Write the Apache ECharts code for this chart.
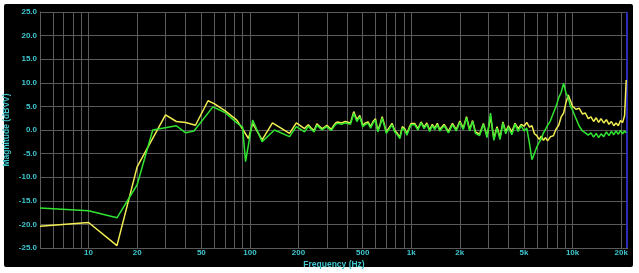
<!DOCTYPE html>
<html><head><meta charset="utf-8">
<script src="https://cdn.jsdelivr.net/npm/echarts@6/dist/echarts.min.js"></script>
<style>
html,body{margin:0;padding:0;background:#fff;}
#panel{position:absolute;left:4px;top:4px;width:629px;height:263px;background:#000;border-radius:2px;}
#chart{position:absolute;left:0;top:0;width:639px;height:273px;}
</style></head><body>
<div id="panel"></div><div id="chart"></div>
<script>
// ---- data ----
const greenLowF = [5, 10, 15, 20, 25, 35, 40, 45, 59, 70, 83, 90, 94, 104, 119, 142, 176, 194, 218];
const greenLowV = [-16.5, -17.1, -18.6, -11.6, 0.0, 0.9, -0.6, -0.2, 4.9, 3.7, 1.5, 0.6, -6.7, 2.1, -2.5, 0.0, -1.4, 0.7, -0.4];
const yellowLowF = [5, 10, 15, 20, 30, 35, 40, 46, 55, 60, 70, 83, 98, 104, 119, 138, 176, 194, 218];
const yellowLowV = [-20.4, -19.6, -24.5, -7.8, 3.2, 1.8, 1.6, 1.0, 6.2, 5.6, 4.1, 2.1, -1.8, 1.4, -2.1, 1.5, -0.7, 1.5, 0.3];
const hiF = [230,240,250,260,270,280,290,300,310,320,330,340,350,360,370,380,390,400,
  420,440,460,480,500,520,540,560,580,600,620,640,660,680,700,
  730,760,790,820,850,880,910,940,970,1000,
  1050,1100,1150,1200,1250,1300,1350,1400,1450,1500,
  1600,1700,1800,1900,2000,2100,2200,2300,2400,2500,
  2650,2800,2950,3100,3250,3400,3550,3700,3850,4000,
  4200,4400,4600,4800,5000,5200,5400,5600,5800,6000,6200,6400,6600,6800,7000,
  7300,7600,7900,8200,8500,8800,9100,9400,9700,10000,
  10500,11000,11500,12000,12500,13000,13500,14000,14500,15000,
  15600,16200,16800,17400,18000,18600,19200,19800,20400,21000,21500];
const greenHiV = [0.8, 0.1, -0.4, 1.0, 0.5, 0.0, 0.4, 0.7, 0.2, -0.1, 0.6, 1.2, 1.4, 1.0, 1.2, 1.0, 1.5, 1.8,
  1.2, 3.5, 1.8, 2.8, 0.7, 1.2, 1.4, 0.4, 1.5, 2.1, -0.4, 0.8, 2.5, 1.0, -0.7,
  0.2, 1.1, -0.4, -1.0, -1.8, 0.4, 0.0, -1.1, 0.2, 1.1,
  1.1, 0.0, 1.5, 0.3, 1.2, -0.3, 0.9, 0.1, 1.1, -0.2,
  0.9, -0.6, 1.1, -0.2, 1.6, 0.1, 2.6, -0.2, 1.8, -0.7,
  -1.2, 1.2, -1.6, 3.6, -2.2, 0.4, -2.0, 1.5, -0.8, 0.6,
  -1.0, 1.2, -0.3, 0.9, -0.2, 0.4, -2.8, -6.3, -5.0, -3.6, -2.6, -1.9, -0.6, 0.2, 1.0,
  2.0, 3.6, 5.0, 6.8, 8.0, 9.9, 7.8, 6.8, 5.0, 4.2,
  2.4, 0.8, -0.2, -0.6, -1.1, -0.6, -1.5, -0.7, -1.6, -0.8,
  -1.4, -0.4, -1.2, -0.3, -1.0, -0.2, -0.9, -0.1, -0.8, -0.2, -0.6];
const yellowHiV = [1.1, 0.4, -0.1, 1.3, 0.8, 0.3, 0.6, 1.0, 0.5, 0.2, 0.9, 1.5, 1.7, 1.3, 1.5, 1.3, 1.8, 2.1,
  1.5, 3.9, 2.2, 3.1, 1.0, 1.5, 1.7, 0.7, 1.8, 2.4, -0.1, 1.1, 2.8, 1.3, -0.4,
  0.5, 1.4, -0.1, -0.7, -1.5, 0.7, 0.3, -0.8, 0.5, 1.4,
  1.4, 0.3, 1.7, 0.6, 1.5, 0.0, 1.2, 0.4, 1.4, 0.1,
  1.2, -0.3, 1.4, 0.1, 1.9, 0.4, 2.8, 0.1, 2.0, -0.4,
  -0.9, 1.4, -1.3, 2.8, -1.8, 0.7, -1.6, 1.7, -0.4, 0.9,
  -0.4, 1.4, 0.3, 1.2, 0.8, 1.6, 0.6, 0.9, -0.8, -1.2, -2.0, -1.3, -2.2, -1.6, -2.3,
  -1.4, -1.2, 0.2, 1.0, 2.8, 3.6, 5.8, 7.4, 6.2, 5.0,
  4.4, 4.6, 3.4, 3.6, 2.4, 2.8, 1.8, 2.6, 1.6, 2.4,
  1.5, 2.2, 1.2, 1.8, 0.9, 1.5, 0.9, 2.0, 1.6, 3.0, 10.6];
const gridFreqs = [6,7,8,9,10,20,30,40,50,60,70,80,90,100,200,300,400,500,600,700,800,900,
  1000,2000,3000,4000,5000,6000,7000,8000,9000,10000,20000];
const labelFreqs = [10,20,50,100,200,500,1000,2000,5000,10000,20000];
const labelTexts = ['10','20','50','100','200','500','1k','2k','5k','10k','20k'];
const edgeFreq = 21650;

// ---- chart ----
const cyan = '#3ec6cf';
const gridColor = '#5a5a5a';
const font = 'Liberation Sans';
function pairs(f, v) { return f.map((x, i) => [x, v[i]]); }
const greenData = pairs(greenLowF.concat(hiF), greenLowV.concat(greenHiV));
const yellowData = pairs(yellowLowF.concat(hiF), yellowLowV.concat(yellowHiV));
const gridMarks = gridFreqs.map(f => {
  const k = labelFreqs.indexOf(f);
  return { xAxis: f, label: k >= 0 ? { show: true, formatter: labelTexts[k] } : { show: false } };
});
gridMarks.push({ xAxis: edgeFreq, lineStyle: { color: '#2b2bb5', width: 2 }, label: { show: false } });

const chart = echarts.init(document.getElementById('chart'));
chart.setOption({
  animation: false,
  grid: { left: 40, right: 11, top: 12, bottom: 25, containLabel: false, outerBoundsMode: 'none' },
  xAxis: {
    type: 'log', logBase: 10, min: 5, max: 22050,
    name: 'Frequency (Hz)', nameLocation: 'middle', nameGap: 12, nameMoveOverlap: false,
    nameTextStyle: { color: cyan, fontSize: 8.5, fontWeight: 'bold', fontFamily: font },
    axisLine: { show: false }, axisTick: { show: false }, axisLabel: { show: false }, splitLine: { show: false }
  },
  yAxis: {
    type: 'value', min: -25, max: 25, interval: 5,
    name: 'Magnitude (dBVV)', nameLocation: 'middle', nameGap: 29, nameMoveOverlap: false,
    nameTextStyle: { color: cyan, fontSize: 8.5, fontWeight: 'bold', fontFamily: font },
    axisLine: { show: true, lineStyle: { color: gridColor } },
    axisTick: { show: false },
    axisLabel: { color: cyan, fontSize: 8, fontWeight: 'bold', fontFamily: font, margin: 3, formatter: v => v.toFixed(1) },
    splitLine: { show: true, lineStyle: { color: gridColor, width: 1 } }
  },
  series: [
    {
      type: 'line', name: 'yellow', data: yellowData, showSymbol: false, z: 10,
      lineStyle: { color: '#f2ee52', width: 1.5 }, itemStyle: { color: '#f2ee52' },
      markLine: {
        silent: true, symbol: 'none', z: 1, animation: false,
        lineStyle: { color: gridColor, width: 1, type: 'solid' },
        label: { position: 'start', color: cyan, fontSize: 8, fontWeight: 'bold', fontFamily: font, distance: 1 },
        emphasis: { disabled: true },
        data: gridMarks
      }
    },
    {
      type: 'line', name: 'green', data: greenData, showSymbol: false, z: 11,
      lineStyle: { color: '#30e430', width: 1.5 }, itemStyle: { color: '#30e430' }
    }
  ]
});
</script></body></html>
